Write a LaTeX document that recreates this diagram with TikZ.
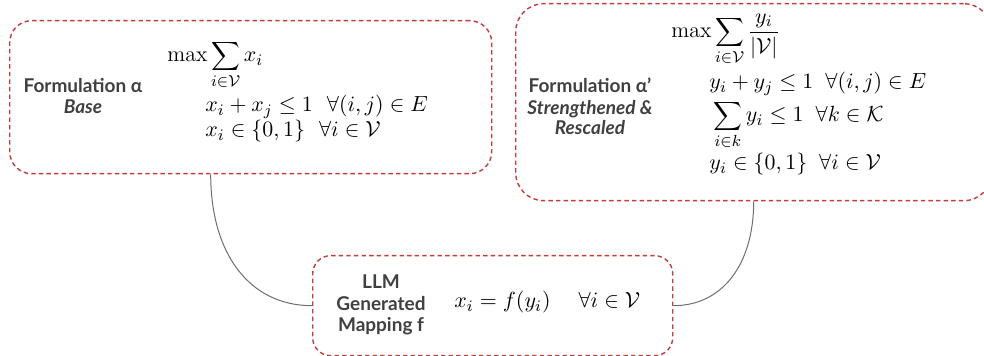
\documentclass[tikz,border=0pt]{standalone}
\usepackage{fontspec}
\newfontfamily\lato{Lato}
\definecolor{boxred}{RGB}{196,60,60}
\definecolor{lblgray}{RGB}{64,64,64}
\definecolor{conngray}{RGB}{110,110,110}
\begin{document}
\begin{tikzpicture}[x=0.5pt,y=-0.5pt,
  boxst/.style={draw=boxred, dash pattern=on 2.2pt off 1.6pt, line width=0.7pt,
    rounded corners=#1, inner sep=0pt, anchor=north west},
  lbl/.style={anchor=base, inner sep=0pt, text=lblgray,
    font={\lato\bfseries\fontsize{9.5}{11}\selectfont}},
  mth/.style={anchor=base west, inner sep=0pt, font={\fontsize{11}{13}\selectfont}},
  conn/.style={draw=conngray, line width=0.5pt}]
\useasboundingbox (0,0) rectangle (984,356);
\clip (0,0) rectangle (984,356);
% boxes
\node[boxst=11pt, minimum width=241pt, minimum height=76.5pt] (A) at (9,20) {};
\node[boxst=14pt, minimum width=238pt, minimum height=98.5pt] (B) at (515,3) {};
\node[boxst=9pt, minimum width=180pt, minimum height=50pt] (C) at (312,255) {};
% labels
\node[lbl] (la1) at (83,93) {Formulation α};
\node[lbl] (la2) at (83,114) {\itshape Base};
\node[lbl] (lb1) at (590,93) {Formulation α’};
\node[lbl] (lb2) at (590,115) {\itshape Strengthened \&};
\node[lbl] (lb3) at (590,135) {\itshape Rescaled};
\node[lbl] (lc1) at (381,289) {LLM};
\node[lbl] (lc2) at (381,311) {Generated};
\node[lbl] (lc3) at (381,332) {Mapping f};
% math
\node[mth] (ma1) at (167,62) {$\displaystyle\max\sum_{i\in\mathcal{V}} x_i$};
\node[mth] (ma2) at (205,112) {$x_i + x_j \le 1 \hskip7pt \forall (i,j)\in E$};
\node[mth] (ma3) at (205,137) {$x_i \in \{0,1\} \hskip7pt \forall i\in\mathcal{V}$};
\node[mth] (mb1) at (671,38) {$\displaystyle\max\sum_{i\in\mathcal{V}}\frac{y_i}{|\mathcal{V}|}$};
\node[mth] (mb2) at (709,89) {$y_i + y_j \le 1 \hskip6pt \forall (i,j)\in E$};
\node[mth] (mb3) at (713,122) {$\displaystyle\sum_{i\in k} y_i \le 1 \hskip6pt \forall k\in\mathcal{K}$};
\node[mth] (mb4) at (709,170) {$y_i\in\{0,1\} \hskip6pt \forall i\in\mathcal{V}$};
\node[mth] (mc) at (454,308) {$x_i = f(y_i) \hskip14pt \forall i\in\mathcal{V}$};
% connectors
\draw[conn] ([xshift=-20pt]A.south) .. controls +(0,80) and +(-62,0) .. (C.west);
\draw[conn] (B.south) .. controls +(0,63) and +(49,0) .. (C.east);
\end{tikzpicture}
\end{document}
